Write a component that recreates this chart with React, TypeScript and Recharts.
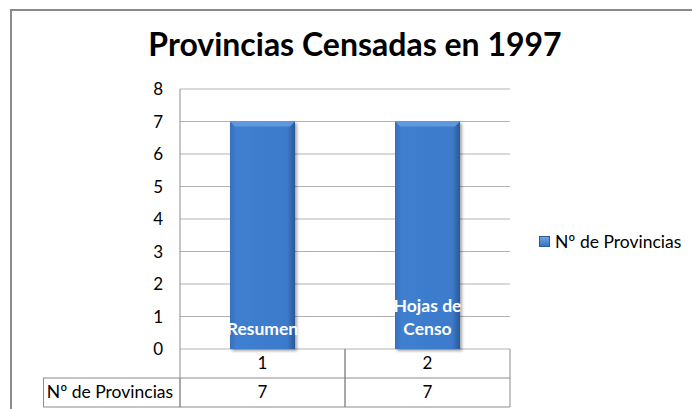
import { BarChart, Bar, XAxis, YAxis, CartesianGrid, Legend, LabelList } from "recharts"

const categories = ["1", "2"]
const provincias = [7, 7]
const barLabels = ["Resumen", "Hojas de\nCenso"]
const yTicks = [0, 1, 2, 3, 4, 5, 6, 7, 8]
const seriesName = "Nº de Provincias"
const title = "Provincias Censadas en 1997"

const data = categories.map((cat, i) => ({ cat, value: provincias[i], label: barLabels[i] }))

const FONT = "Lato, 'Open Sans', sans-serif"
const PLOT_LEFT = 180
const PLOT_BOTTOM = 349
const ROW_H = 29
const BAND = 165
const LINE = "#8c8c8c"

const BarShape = (props: any) => {
    const { x, y, width, height } = props
    const b = 5
    return (
        <g filter="url(#barShadow)">
            <rect x={x} y={y} width={width} height={height} fill="url(#barBody)" />
            <polygon
                points={`${x},${y} ${x + width},${y} ${x + width - b},${y + b} ${x + b},${y + b}`}
                fill="#5f98de"
            />
        </g>
    )
}

const BarText = (props: any) => {
    const { x, y, width, height, value } = props
    const lines = String(value).split("\n")
    const cx = x + width / 2
    const last = y + height - 14
    return (
        <text textAnchor="middle" fill="#fff" fontFamily={FONT} fontWeight="bold" fontSize={17.5}>
            {lines.map((l, i) => (
                <tspan key={i} x={cx} y={last - (lines.length - 1 - i) * 23}>{l}</tspan>
            ))}
        </text>
    )
}

const TableTick = (props: any) => {
    const { x, payload, index } = props
    const left = x - BAND / 2
    const right = x + BAND / 2
    const r1 = PLOT_BOTTOM
    const r2 = r1 + ROW_H
    const r3 = r2 + ROW_H
    return (
        <g>
            <line x1={left} y1={r1} x2={left} y2={r3} stroke={LINE} />
            <line x1={right} y1={r1} x2={right} y2={r3} stroke={LINE} />
            <line x1={left} y1={r2} x2={right} y2={r2} stroke={LINE} />
            <line x1={left} y1={r3} x2={right} y2={r3} stroke={LINE} />
            <text x={x} y={r1 + 20} textAnchor="middle" fontFamily={FONT} fontSize={17} fill="#000">{payload.value}</text>
            <text x={x} y={r2 + 20} textAnchor="middle" fontFamily={FONT} fontSize={17} fill="#000">{provincias[index]}</text>
            {index === 0 && (
                <g>
                    <rect x={43.5} y={r2} width={PLOT_LEFT - 43.5} height={ROW_H} fill="none" stroke={LINE} />
                    <text x={110} y={r2 + 20} textAnchor="middle" fontFamily={FONT} fontSize={17.5} fill="#000">{seriesName}</text>
                </g>
            )}
        </g>
    )
}

const LegendContent = () => (
    <div style={{ display: "flex", alignItems: "center", fontFamily: FONT, fontSize: 17.5, color: "#000", whiteSpace: "nowrap" }}>
        <span style={{ display: "inline-block", width: 9, height: 9, marginRight: 5, background: "linear-gradient(#6ea3e4, #3a74c2)", border: "1px solid #2c5c9a" }} />
        {seriesName}
    </div>
)

export default function App() {
    return (
        <div style={{ position: "relative", width: 692, height: 409, background: "#fff", overflow: "hidden" }}>
            <style>{"body{margin:0}"}</style>
            <div style={{ position: "absolute", left: 10, top: 9, width: 700, height: 420, borderTop: "2px solid #8a8a8a", borderLeft: "2px solid #8a8a8a", pointerEvents: "none" }} />
            <div style={{ position: "absolute", left: 0, width: 710, top: 23, textAlign: "center", fontFamily: FONT, fontWeight: "bold", fontSize: 32, color: "#000", lineHeight: "42px" }}>
                {title}
            </div>
            <BarChart width={692} height={409} data={data} margin={{ top: 89, right: 182, bottom: 2, left: 140 }}>
                <defs>
                    <linearGradient id="barBody" x1="0" y1="0" x2="1" y2="0">
                        <stop offset="0%" stopColor="#3570bd" />
                        <stop offset="10%" stopColor="#3f7fcf" />
                        <stop offset="88%" stopColor="#3c7acb" />
                        <stop offset="100%" stopColor="#2a5896" />
                    </linearGradient>
                    <filter id="barShadow" x="-20%" y="-20%" width="140%" height="140%">
                        <feDropShadow dx="2" dy="2" stdDeviation="1.5" floodColor="#000" floodOpacity="0.35" />
                    </filter>
                </defs>
                <CartesianGrid vertical={false} stroke="#b3b3b3" />
                <YAxis
                    width={40}
                    domain={[0, 8]}
                    ticks={yTicks}
                    interval={0}
                    tickLine={false}
                    axisLine={{ stroke: LINE }}
                    tickMargin={11}
                    tick={{ fill: "#000", fontSize: 17, fontFamily: FONT }}
                />
                <XAxis dataKey="cat" height={58} axisLine={false} tickLine={false} tick={<TableTick />} interval={0} />
                <Legend
                    layout="vertical"
                    align="center"
                    verticalAlign="middle"
                    content={<LegendContent />}
                    wrapperStyle={{ left: 539, top: 231, width: 153 }}
                />
                <Bar dataKey="value" name={seriesName} barSize={65} shape={<BarShape />} isAnimationActive={false}>
                    <LabelList dataKey="label" content={<BarText />} />
                </Bar>
            </BarChart>
        </div>
    )
}
